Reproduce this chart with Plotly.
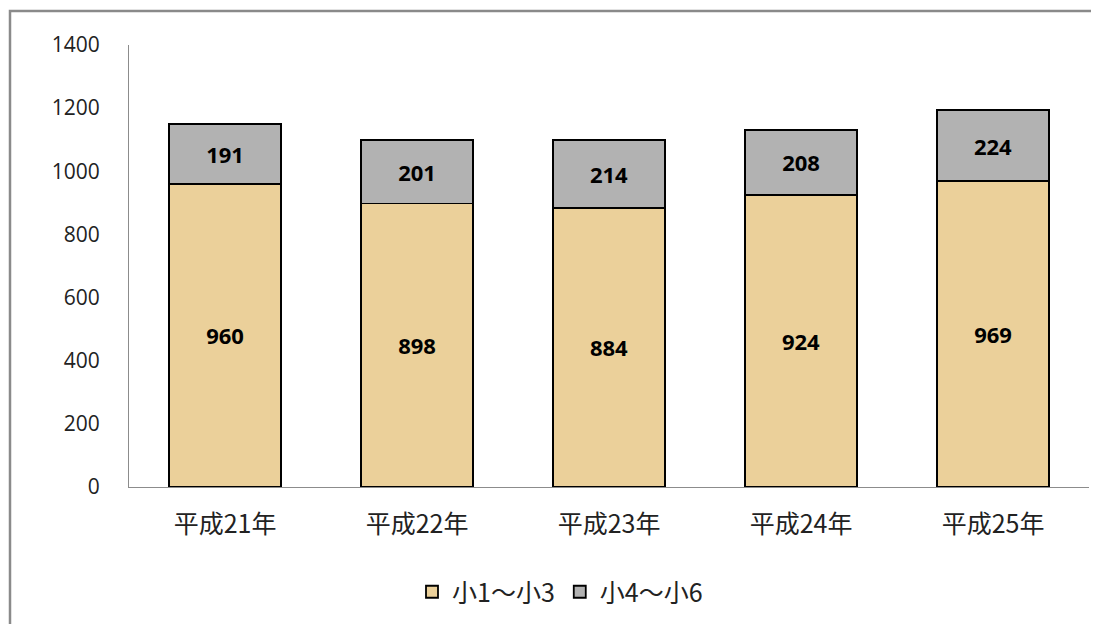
import plotly.graph_objects as go

categories = ["平成21年", "平成22年", "平成23年", "平成24年", "平成25年"]
lower = [960, 898, 884, 924, 969]
upper = [191, 201, 214, 208, 224]
series_names = ["小1～小3", "小4～小6"]
y_ticks = [0, 200, 400, 600, 800, 1000, 1200, 1400]

# page body adds an 8px offset; target pixel coordinates are compensated
OFF = 8
W, H = 1099, 624
L, T = 129 - OFF, 45 - OFF
PR, PB = 1089 - OFF, 487 - OFF
R, B = W - PR, H - PB
pw, ph = PR - L, PB - T

fig = go.Figure()
fig.add_trace(go.Bar(
    x=categories, y=lower, name=series_names[0],
    marker=dict(color="#EBD09A", line=dict(color="#000000", width=1.8)),
    text=lower, textposition="inside", insidetextanchor="middle",
    textfont=dict(family="Open Sans", size=22, color="#000000", weight="bold"),
))
fig.add_trace(go.Bar(
    x=categories, y=upper, name=series_names[1],
    marker=dict(color="#B2B2B2", line=dict(color="#000000", width=1.8)),
    text=upper, textposition="inside", insidetextanchor="middle",
    textfont=dict(family="Open Sans", size=22, color="#000000", weight="bold"),
))

def px_x(p):
    return (p - OFF - L) / pw

def px_y(p):
    return (PB - (p - OFF)) / ph

fig.update_layout(
    width=W, height=H,
    barmode="stack", bargap=0.42,
    margin=dict(l=L, r=R, t=T, b=B),
    paper_bgcolor="white", plot_bgcolor="white",
    uniformtext=dict(mode=False),
    font=dict(family="Open Sans", color="#222222"),
    xaxis=dict(
        showline=True, linecolor="#8C8C8C", linewidth=1.2,
        ticks="", showgrid=False,
        tickfont=dict(family="Noto Sans CJK JP", size=25, color="#222222"),
        ticklabelstandoff=15,
    ),
    yaxis=dict(
        range=[0, 1400], tickvals=y_ticks,
        showline=True, linecolor="#8C8C8C", linewidth=1.2,
        ticks="", showgrid=False, zeroline=False,
        tickfont=dict(family="Open Sans", size=21, color="#222222"),
        ticklabelstandoff=24,
    ),
    legend=dict(
        orientation="h", x=px_x(560), xanchor="center",
        y=px_y(592), yanchor="middle",
        font=dict(family="Noto Sans CJK JP", size=25, color="#222222"),
        traceorder="normal", itemwidth=30,
    ),
    showlegend=True,
    shapes=[dict(
        type="rect", xref="paper", yref="paper",
        x0=px_x(10), x1=px_x(1115), y0=px_y(650), y1=px_y(11),
        line=dict(color="#8A8A8A", width=2.5), fillcolor="rgba(0,0,0,0)",
        layer="below",
    )],
)

fig.write_html("out.html")
